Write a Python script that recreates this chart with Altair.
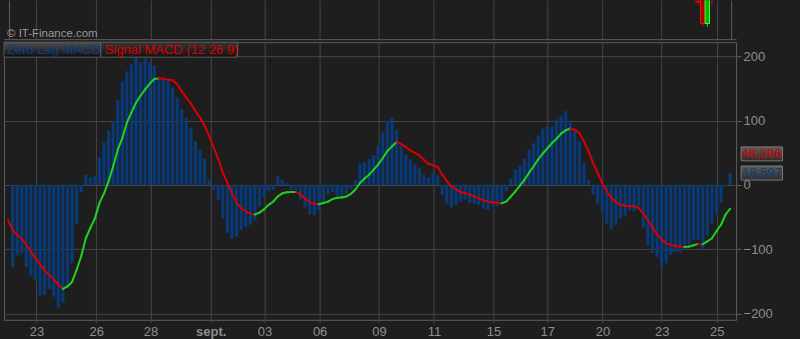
import altair as alt
import pandas as pd

# ---------------- data ----------------
hist = [
    -128, -110, -107, -128, -141, -148, -172, -171, -162, -174,
    -191, -183, -158, -122, -61, -11, 16, 12, 14, 43,
    66, 85, 99, 132, 161, 177, 188, 200, 191, 197,
    191, 186, 167, 167, 162, 152, 136, 118, 105, 89,
    68, 55, 41, 8, -8, -24, -52, -74, -84, -80,
    -70, -65, -62,
    -55, -33, -19, -10, -8, 14, 8, 3, -8, -8,
    -23, -35, -46, -47, -40, -26, -14, -11, -17, -17,
    -14, -6, 8, 33, 36, 41, 47, 61, 83, 100,
    105, 86, 60, 47, 40, 33, 27, 16, 12, 18,
    15, -15, -29, -35, -31, -26, -23, -28, -29, -31,
    -37, -39, -33, -33,
    -26, -10, 10, 24, 30, 41, 55, 65, 77, 88,
    91, 91, 102, 108, 115, 100, 86, 69, 34, 8,
    -15, -29, -41, -60, -68, -62, -52, -49, -40, -41,
    -33, -66, -94, -106, -112, -126, -122, -109, -104, -105,
    -99, -92, -85, -86, -99, -80, -60, -46, -28, -2,
    18.6,
]

# signal line, first value sits one bar left of the first histogram bar
signal = [
    -55,
    -70, -78, -84, -93, -104, -114, -124, -133, -140, -147,
    -155, -162, -158, -151, -132, -111, -83, -67, -52, -28,
    -13, 6, 29, 55, 73, 97, 113, 128, 139, 149,
    158, 165, 166, 165, 164, 163, 157, 146, 136, 127,
    115, 105, 92, 76, 58, 40, 19, 3, -13, -27,
    -36, -41, -45,
    -46, -43, -38, -31, -26, -18, -13, -11.5, -11, -10.8,
    -15, -21, -27, -29, -30, -28, -26, -22, -20, -19.5,
    -18, -14, -7, 3, 10, 16, 24, 32, 42, 53,
    60, 67, 64, 59, 54, 50, 46, 39, 33, 31,
    28, 16, 6, -2, -7, -11, -13, -15, -18, -21,
    -24, -26, -27, -28,
    -28.5, -26, -18, -10, -1, 8, 19, 29, 40, 49,
    57, 65, 72, 80, 85, 88, 86, 81, 68, 53,
    34, 19, 3, -10, -20, -27, -31, -32, -33, -33,
    -36, -45, -55, -66, -77, -85, -91, -93, -95, -96,
    -96.5, -96, -94, -92, -92.3, -88, -83, -72, -62, -46,
    -37,
]

tick_pos = [5.20, 18.28, 30.18, 43.33, 55.10, 67.17, 80.15, 92.17,
            105.19, 116.96, 129.04, 142.01, 154.08]
tick_labels = ["23", "26", "28", "sept.", "03", "06", "09", "11",
               "15", "17", "20", "23", "25"]
y_ticks = [-200, -100, 0, 100, 200]

candle_idx = [150, 151, 152, 153]
candle_open = [4750, 4745, 4715.7, 4760]
candle_close = [4737.3, 4715.7, 4748, 4745]
candle_high = [4755, 4752, 4758, 4765]
candle_low = [4734, 4713.3, 4712.3, 4734]

last_values = [48.396, 18.597]
last_labels = ["48,396", "18,597"]

# ---------------- styling ----------------
BG = "#1e1e1e"
GRID = "#464646"
BORDER = "#5e5e5e"
LABEL = "#8e8e8e"
BAR = "#093a78"
GREEN = "#1ed21e"
RED = "#d80000"
BLUE_TXT = "#0d3f82"
FONT = "Liberation Sans"

X_DOMAIN = [-0.8, 157.2]
W = 733

xs = alt.Scale(domain=X_DOMAIN, nice=False, zero=False)
ys = alt.Scale(domain=[-210, 222.4], nice=False, zero=False)

label_expr = "[{}][indexof([{}], datum.value)]".format(
    ",".join("'%s'" % t for t in tick_labels),
    ",".join(str(v) for v in tick_pos),
)

# ---------------- tables ----------------
df_hist = pd.DataFrame({"i": list(range(len(hist))), "h": hist})
sx = list(range(-1, len(signal) - 1))
seg = pd.DataFrame({
    "x0": sx[:-1], "x1": sx[1:],
    "y0": signal[:-1], "y1": signal[1:],
})
seg["dir"] = ["up" if b > a else "down" for a, b in zip(signal[:-1], signal[1:])]

df_c = pd.DataFrame({
    "i": candle_idx, "open": candle_open, "close": candle_close,
    "high": candle_high, "low": candle_low,
})
df_c["dir"] = ["up" if c > o else "down" for o, c in zip(candle_open, candle_close)]

df_tags = pd.DataFrame({"v": last_values, "t": last_labels, "c": [RED, BLUE_TXT]})
one = pd.DataFrame({"a": [0]})

# ---------------- lower (MACD) panel ----------------
xaxis_low = alt.Axis(
    values=tick_pos, labelExpr=label_expr, grid=True, gridColor=GRID,
    domain=False, ticks=True, tickColor=GRID, tickSize=3,
    labelColor=LABEL, labelFont=FONT, labelFontSize=13, labelPadding=3,
    labelFlush=False, labelOverlap=False, title=None,
    labelFontWeight={"condition": {"test": "datum.value == 43.33", "value": "bold"},
                     "value": "normal"},
)
yaxis = alt.Axis(
    orient="right", values=y_ticks, grid=True, gridColor=GRID, domain=False,
    tickColor=BORDER, tickSize=5, labelColor=LABEL, labelFont=FONT,
    labelFontSize=13, labelPadding=2, title=None, labelFlush=False,
)

bars = alt.Chart(df_hist).mark_bar(size=3.2, color=BAR).encode(
    x=alt.X("i:Q", scale=xs, axis=xaxis_low),
    y=alt.Y("h:Q", scale=ys, axis=yaxis),
)

lines = alt.Chart(seg).mark_rule(strokeWidth=2, strokeCap="round", clip=True).encode(
    x=alt.X("x0:Q", scale=xs),
    x2="x1:Q",
    y=alt.Y("y0:Q", scale=ys),
    y2="y1:Q",
    color=alt.Color("dir:N", scale=alt.Scale(domain=["up", "down"], range=[GREEN, RED]),
                    legend=None),
)

grad1 = {"gradient": "linear", "x1": 0, "y1": 0, "x2": 0, "y2": 1,
         "stops": [{"offset": 0, "color": "#505050"}, {"offset": 1, "color": "#0c0c0c"}]}
grad2 = {"gradient": "linear", "x1": 0, "y1": 0, "x2": 0, "y2": 1,
         "stops": [{"offset": 0, "color": "#363636"}, {"offset": 1, "color": "#121212"}]}
grad_tag = {"gradient": "linear", "x1": 0, "y1": 0, "x2": 0, "y2": 1,
            "stops": [{"offset": 0, "color": "#5c5c5c"}, {"offset": 1, "color": "#2c2c2c"}]}

leg_box1 = alt.Chart(one).mark_rect(fill=grad1, stroke="#5a5a5a", strokeWidth=1).encode(
    x=alt.value(0), x2=alt.value(97), y=alt.value(0), y2=alt.value(15))
leg_box2 = alt.Chart(one).mark_rect(fill=grad2, stroke="#5a5a5a", strokeWidth=1).encode(
    x=alt.value(97), x2=alt.value(234), y=alt.value(0), y2=alt.value(15))
leg_t1 = alt.Chart(one).mark_text(
    text="Zero Lag MACD", align="left", baseline="alphabetic", font=FONT,
    fontSize=13, color=BLUE_TXT).encode(x=alt.value(3), y=alt.value(11.5))
leg_t2 = alt.Chart(one).mark_text(
    text="Signal MACD (12 26 9)", align="left", baseline="alphabetic", font=FONT,
    fontSize=13, color=RED).encode(x=alt.value(101), y=alt.value(11.5))

tag_box = alt.Chart(df_tags).mark_rect(
    fill=grad_tag, stroke="#787878", strokeWidth=1, yOffset=-7, y2Offset=7).encode(
    x=alt.value(738), x2=alt.value(779.5),
    y=alt.Y("v:Q", scale=ys), y2="v:Q")
tag_txt = alt.Chart(df_tags).mark_text(
    align="center", baseline="middle", font=FONT, fontSize=13).encode(
    x=alt.value(758.8), y=alt.Y("v:Q", scale=ys), text="t:N",
    color=alt.Color("c:N", scale=None))

lower = alt.layer(
    bars, lines, leg_box1, leg_box2, leg_t1, leg_t2, tag_box, tag_txt
).properties(width=W, height=278)

# ---------------- upper (price) panel ----------------
xaxis_top = alt.Axis(
    values=[X_DOMAIN[0]] + tick_pos + [X_DOMAIN[1]], grid=True,
    gridColor={"condition": {"test": "datum.value < 0 || datum.value > 157", "value": BORDER},
               "value": GRID},
    labels=False, ticks=False, domain=True, domainColor=BORDER, title=None,
)
py = alt.Scale(domain=[4700, 4739], nice=False, zero=False)
cdir = alt.Color("dir:N", scale=alt.Scale(domain=["up", "down"], range=["#22e022", "#e00000"]),
                 legend=None)

wicks = alt.Chart(df_c).mark_rule(strokeWidth=1, clip=True).encode(
    x=alt.X("i:Q", scale=xs, axis=xaxis_top),
    y=alt.Y("low:Q", scale=py, axis=None), y2="high:Q",
    color=cdir,
)
bodies = alt.Chart(df_c).mark_bar(size=4.4, clip=True, strokeWidth=1).encode(
    x=alt.X("i:Q", scale=xs),
    y=alt.Y("open:Q", scale=py), y2="close:Q",
    fill=alt.Fill("dir:N", scale=alt.Scale(domain=["up", "down"], range=["#00b400", "#a80000"]),
                  legend=None),
    stroke=alt.Stroke("dir:N", scale=alt.Scale(domain=["up", "down"], range=["#3cff3c", "#f01010"]),
                      legend=None),
)
copyright_txt = alt.Chart(one).mark_text(
    text="© IT-Finance.com", align="left", baseline="alphabetic", font=FONT,
    fontSize=11.5, color="#9a9a9a").encode(x=alt.value(3), y=alt.value(37))

upper = alt.layer(wicks, bodies, copyright_txt).properties(
    width=W, height=39, view=alt.ViewBackground(stroke=None)
).resolve_scale(color="independent", fill="independent", stroke="independent")

chart = alt.vconcat(upper, lower, spacing=1).resolve_scale(
    color="independent", fill="independent", stroke="independent"
).configure(
    background=BG,
    padding={"left": 3, "top": 0, "right": 16, "bottom": 0},
    font=FONT,
).configure_view(stroke=BORDER, strokeWidth=1)

chart.save("out.html", embed_options={"renderer": "svg", "actions": False})
